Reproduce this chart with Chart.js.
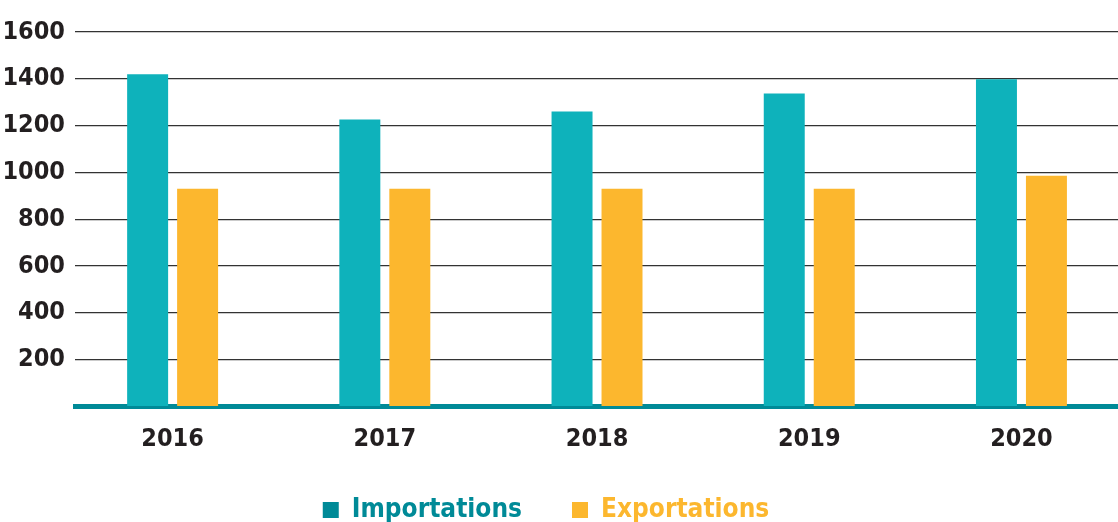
<!DOCTYPE html>
<html>
<head>
<meta charset="utf-8">
<script src="https://cdn.jsdelivr.net/npm/chart.js@4"></script>
<style>
  html, body { margin: 0; padding: 0; background: #fff; }
  #wrap { width: 1118px; height: 522px; }
</style>
</head>
<body>
<div id="wrap"><canvas id="myChart"></canvas></div>
<script>
// data
var years = [2016, 2017, 2018, 2019, 2020];
var importations = [1420, 1226, 1260, 1337, 1398];
var exportations = [930, 930, 930, 930, 986];
var yTicks = [0, 200, 400, 600, 800, 1000, 1200, 1400, 1600];

var FONT = "'DejaVu Sans Condensed', 'DejaVu Sans', sans-serif";
var TEAL = '#0eb2bb';
var TEAL_DARK = '#008a97';
var GOLD = '#fcb72e';
var LEGEND_PAD = 50;
var LEGEND_SIZE = 26;

function toPoints(vals) {
    return years.map(function (yr, i) { return { x: yr, y: vals[i] }; });
}

// legend sits lower and a bit left in the original
var placeLegend = {
    id: 'placeLegend',
    afterLayout: function (chart) {
        var lg = chart.legend;
        lg.top = 510 - LEGEND_PAD - LEGEND_SIZE / 2;
        lg.bottom = chart.height;
        lg.left -= 13;
        lg.right -= 13;
    }
};

var ctx = document.getElementById('myChart').getContext('2d');
var chart = new Chart(ctx, {
    type: 'bar',
    data: {
        datasets: [{
            label: 'Importations',
            data: toPoints(importations),
            backgroundColor: TEAL,
            legendColor: TEAL_DARK,
            categoryPercentage: 0.471,
            barPercentage: 0.82
        }, {
            label: 'Exportations',
            data: toPoints(exportations),
            backgroundColor: GOLD,
            legendColor: GOLD,
            categoryPercentage: 0.471,
            barPercentage: 0.82
        }]
    },
    options: {
        responsive: true,
        maintainAspectRatio: false,
        animation: false,
        layout: { padding: { top: 32, left: 0, right: 0, bottom: 0 } },
        scales: {
            x: {
                type: 'linear',
                offset: false,
                min: 2015.54,
                max: 2020.455,
                z: 1,
                grid: { display: false },
                border: { display: true, color: TEAL_DARK, width: 5 },
                afterBuildTicks: function (scale) {
                    scale.ticks = years.map(function (v) { return { value: v }; });
                },
                afterFit: function (scale) { scale.height = 50; },
                ticks: {
                    color: '#231f20',
                    font: { family: FONT, size: 25, weight: 'bold' },
                    padding: 10,
                    callback: function (v) { return String(v); }
                }
            },
            y: {
                min: 0,
                max: 1600,
                afterBuildTicks: function (scale) {
                    scale.ticks = yTicks.map(function (v) { return { value: v }; });
                },
                afterFit: function (scale) { scale.width = 75; },
                grid: { color: '#333333', lineWidth: 1.2, drawTicks: false },
                border: { display: false },
                ticks: {
                    color: '#231f20',
                    font: { family: FONT, size: 25, weight: 'bold' },
                    padding: 10,
                    callback: function (v) { return v === 0 ? '' : v; }
                }
            }
        },
        plugins: {
            tooltip: { enabled: false },
            legend: {
                position: 'bottom',
                maxHeight: 65.5,
                labels: {
                    boxWidth: 16,
                    boxHeight: 16,
                    padding: LEGEND_PAD,
                    font: { family: FONT, size: LEGEND_SIZE, weight: 'bold' },
                    generateLabels: function (chart) {
                        return chart.data.datasets.map(function (ds, i) {
                            return {
                                text: ds.label,
                                fillStyle: ds.legendColor,
                                strokeStyle: ds.legendColor,
                                lineWidth: 0,
                                fontColor: ds.legendColor,
                                datasetIndex: i
                            };
                        });
                    }
                }
            }
        }
    },
    plugins: [placeLegend]
});
</script>
</body>
</html>
